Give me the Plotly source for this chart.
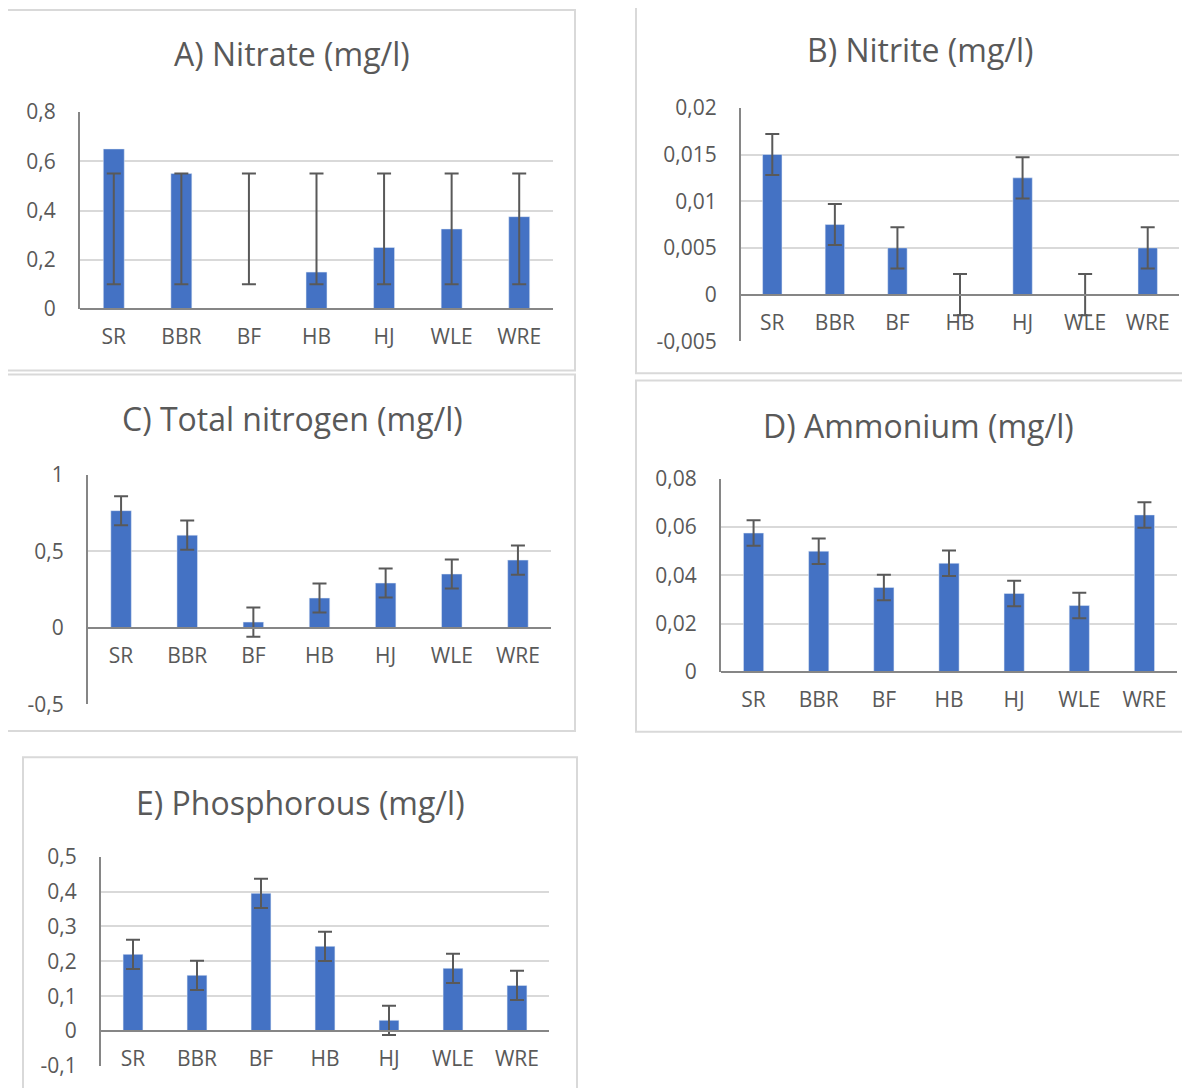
import plotly.graph_objects as go

W, H = 1190, 1088
OFF = 8  # page body margin of the html page

sites = ["SR", "BBR", "BF", "HB", "HJ", "WLE", "WRE"]

# A) Nitrate
nitrate = [0.65, 0.55, 0.0, 0.15, 0.25, 0.325, 0.375]
nitrate_errbar_center = [0.325, 0.325, 0.325, 0.325, 0.325, 0.325, 0.325]
nitrate_err = [0.225, 0.225, 0.225, 0.225, 0.225, 0.225, 0.225]
nitrate_ticks = [0, 0.2, 0.4, 0.6, 0.8]
nitrate_ticktext = ["0", "0,2", "0,4", "0,6", "0,8"]

# B) Nitrite
nitrite = [0.015, 0.0075, 0.005, 0.0, 0.0125, 0.0, 0.005]
nitrite_err = [0.0022, 0.0022, 0.0022, 0.0022, 0.0022, 0.0022, 0.0022]
nitrite_ticks = [-0.005, 0, 0.005, 0.01, 0.015, 0.02]
nitrite_ticktext = ["-0,005", "0", "0,005", "0,01", "0,015", "0,02"]

# C) Total nitrogen
totn = [0.765, 0.605, 0.037, 0.194, 0.292, 0.351, 0.442]
totn_err = [0.095, 0.095, 0.095, 0.095, 0.095, 0.095, 0.095]
totn_ticks = [-0.5, 0, 0.5, 1]
totn_ticktext = ["-0,5", "0", "0,5", "1"]

# D) Ammonium
ammonium = [0.0575, 0.05, 0.035, 0.045, 0.0325, 0.0275, 0.065]
ammonium_err = [0.0053, 0.0053, 0.0053, 0.0053, 0.0053, 0.0053, 0.0053]
ammonium_ticks = [0, 0.02, 0.04, 0.06, 0.08]
ammonium_ticktext = ["0", "0,02", "0,04", "0,06", "0,08"]

# E) Phosphorous
phos = [0.22, 0.16, 0.395, 0.243, 0.031, 0.18, 0.131]
phos_err = [0.042, 0.042, 0.042, 0.042, 0.042, 0.042, 0.042]
phos_ticks = [-0.1, 0, 0.1, 0.2, 0.3, 0.4, 0.5]
phos_ticktext = ["-0,1", "0", "0,1", "0,2", "0,3", "0,4", "0,5"]

titles = ["A) Nitrate (mg/l)", "B) Nitrite (mg/l)", "C) Total nitrogen (mg/l)",
          "D) Ammonium (mg/l)", "E) Phosphorous (mg/l)"]

BAR = "#4472C4"
ERR = "#595959"
GRID = "#d9d9d9"
AXIS = "#868686"
TXT = "#595959"
FONT = "Open Sans"

# panel layout in pixels: plot area (x0, x1, y_top, y_bottom), title center, border box
panels = [
    dict(vals=nitrate, err=nitrate_err, ec=nitrate_errbar_center, ticks=nitrate_ticks, tt=nitrate_ticktext,
         rng=[0, 0.8], px=(80, 553, 112, 309), title=(292, 53), box=(7, 575, 10, 370.5)),
    dict(vals=nitrite, err=nitrite_err, ec=None, ticks=nitrite_ticks, tt=nitrite_ticktext,
         rng=[-0.005, 0.02], px=(741, 1179, 107.8, 341.3), title=(920, 49), box=(636, 1200, 7, 373.3)),
    dict(vals=totn, err=totn_err, ec=None, ticks=totn_ticks, tt=totn_ticktext,
         rng=[-0.5, 1], px=(88, 551, 474.7, 704.3), title=(292, 418), box=(7, 575, 374.5, 731)),
    dict(vals=ammonium, err=ammonium_err, ec=None, ticks=ammonium_ticks, tt=ammonium_ticktext,
         rng=[0, 0.08], px=(721, 1177, 478.7, 672), title=(919, 425), box=(636, 1200, 380.5, 731.7)),
    dict(vals=phos, err=phos_err, ec=None, ticks=phos_ticks, tt=phos_ticktext,
         rng=[-0.1, 0.5], px=(101, 549, 856.7, 1066), title=(300, 802), box=(23, 577, 757.3, 1100)),
]

fig = go.Figure()
shapes = []
annotations = []


def fx(p):
    return (p - OFF) / W


def fy(p):
    return 1 - (p - OFF) / H


for i, p in enumerate(panels):
    n = "" if i == 0 else str(i + 1)
    xa, ya = "x" + n, "y" + n
    x0, x1, yt, yb = p["px"]
    dom_y = [fy(yb), fy(yt)]
    r0, r1 = p["rng"]
    zero_pos = dom_y[0] + (dom_y[1] - dom_y[0]) * (0 - r0) / (r1 - r0)

    if p["ec"] is None:
        fig.add_trace(go.Bar(x=sites, y=p["vals"], marker_color=BAR, xaxis=xa, yaxis=ya,
                             error_y=dict(type="data", array=p["err"], color=ERR, thickness=2, width=7),
                             showlegend=False))
    else:
        fig.add_trace(go.Bar(x=sites, y=p["vals"], marker_color=BAR, xaxis=xa, yaxis=ya,
                             showlegend=False))
        fig.add_trace(go.Scatter(x=sites, y=p["ec"], mode="markers", marker=dict(opacity=0),
                                 xaxis=xa, yaxis=ya, showlegend=False,
                                 error_y=dict(type="data", array=p["err"], color=ERR, thickness=2, width=7)))

    fig.layout["xaxis" + n] = dict(
        domain=[fx(x0), fx(x1)], anchor="free", position=zero_pos,
        showline=True, linecolor=AXIS, linewidth=2, ticks="", showgrid=False, zeroline=False,
        tickfont=dict(family=FONT, size=21, color=TXT), ticklabelstandoff=9,
        fixedrange=True, layer="above traces", automargin=False,
    )
    fig.layout["yaxis" + n] = dict(
        domain=dom_y, anchor=xa, range=p["rng"], tickvals=p["ticks"], ticktext=p["tt"],
        showline=True, linecolor=AXIS, linewidth=2, ticks="", showgrid=True, gridcolor=GRID,
        gridwidth=2, zeroline=False, tickfont=dict(family=FONT, size=21, color=TXT),
        ticklabelstandoff=18, fixedrange=True, automargin=False,
    )
    bx0, bx1, by0, by1 = p["box"]
    shapes.append(dict(type="rect", xref="paper", yref="paper", x0=fx(bx0), x1=fx(bx1),
                       y0=fy(by1), y1=fy(by0), line=dict(color=GRID, width=2), layer="below"))
    tx, ty = p["title"]
    annotations.append(dict(text=titles[i], xref="paper", yref="paper", x=fx(tx), y=fy(ty),
                            xanchor="center", yanchor="middle", showarrow=False,
                            font=dict(family=FONT, size=32, color=TXT)))

fig.update_layout(
    width=W, height=H, margin=dict(l=0, r=0, t=0, b=0, pad=0, autoexpand=False),
    paper_bgcolor="white", plot_bgcolor="white",
    bargap=0.69, shapes=shapes, annotations=annotations,
    separators=", ", showlegend=False,
)

fig.write_html("out.html")
